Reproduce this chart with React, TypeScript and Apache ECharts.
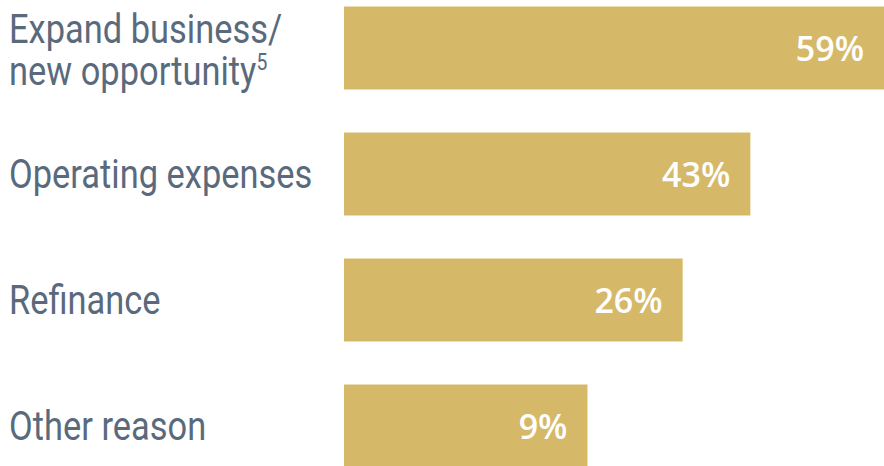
import React, { useEffect, useRef } from "react";
import * as echarts from "echarts";

// Category names (top to bottom)
const categories = [
  "Expand business/\nnew opportunity{sup|5}",
  "Operating expenses",
  "Refinance",
  "Other reason",
];
// Percentages printed on the bars
const percentLabels = [59, 43, 26, 9];
// Bar lengths as drawn in the picture (infographic, not to scale), in axis units
const barLengths = [59, 44.4, 37.0, 26.6];

const LABEL_COLOR = "#5a6a7d";

export default function App() {
  const ref = useRef<HTMLDivElement>(null);
  useEffect(() => {
    document.body.style.margin = "0";
    const chart = echarts.init(ref.current!, undefined, { renderer: "svg" });
    chart.setOption({
      animation: false,
      grid: {
        left: 344,
        right: 0,
        top: -15,
        height: 504,
        containLabel: false,
        outerBoundsMode: "none",
      },
      xAxis: {
        type: "value",
        min: 0,
        max: 59,
        show: false,
        splitLine: { show: false },
      },
      yAxis: {
        type: "category",
        inverse: true,
        data: categories,
        axisLine: { show: false },
        axisTick: { show: false },
        axisLabel: { show: false },
      },
      series: [
        {
          type: "bar",
          data: barLengths,
          barWidth: 83,
          itemStyle: { color: "#d5b969" },
          label: {
            show: true,
            position: "insideRight",
            distance: 20,
            color: "#ffffff",
            fontFamily: "Open Sans",
            fontWeight: 600,
            fontSize: 34,
            formatter: (p: any) => percentLabels[p.dataIndex] + "%",
          },
        },
      ],
    });
    // Category labels drawn as condensed text, positioned on the category axis
    const graphics = categories.map((c, i) => {
      const y = chart.convertToPixel({ yAxisIndex: 0 }, i) as number;
      return {
        type: "text",
        x: 9,
        y: i === 0 ? y + 2 : y,
        scaleX: 0.84,
        style: {
          text: c,
          fill: LABEL_COLOR,
          fontFamily: "Roboto",
          fontSize: 41,
          lineHeight: 42,
          verticalAlign: "middle",
          align: "left",
          rich: {
            sup: {
              fontFamily: "Roboto",
              fontSize: 23,
              fill: LABEL_COLOR,
              lineHeight: 42,
              verticalAlign: "top",
            },
          },
        },
      };
    });
    chart.setOption({ graphic: graphics });
    return () => chart.dispose();
  }, []);
  return <div ref={ref} style={{ width: 884, height: 466 }} />;
}
